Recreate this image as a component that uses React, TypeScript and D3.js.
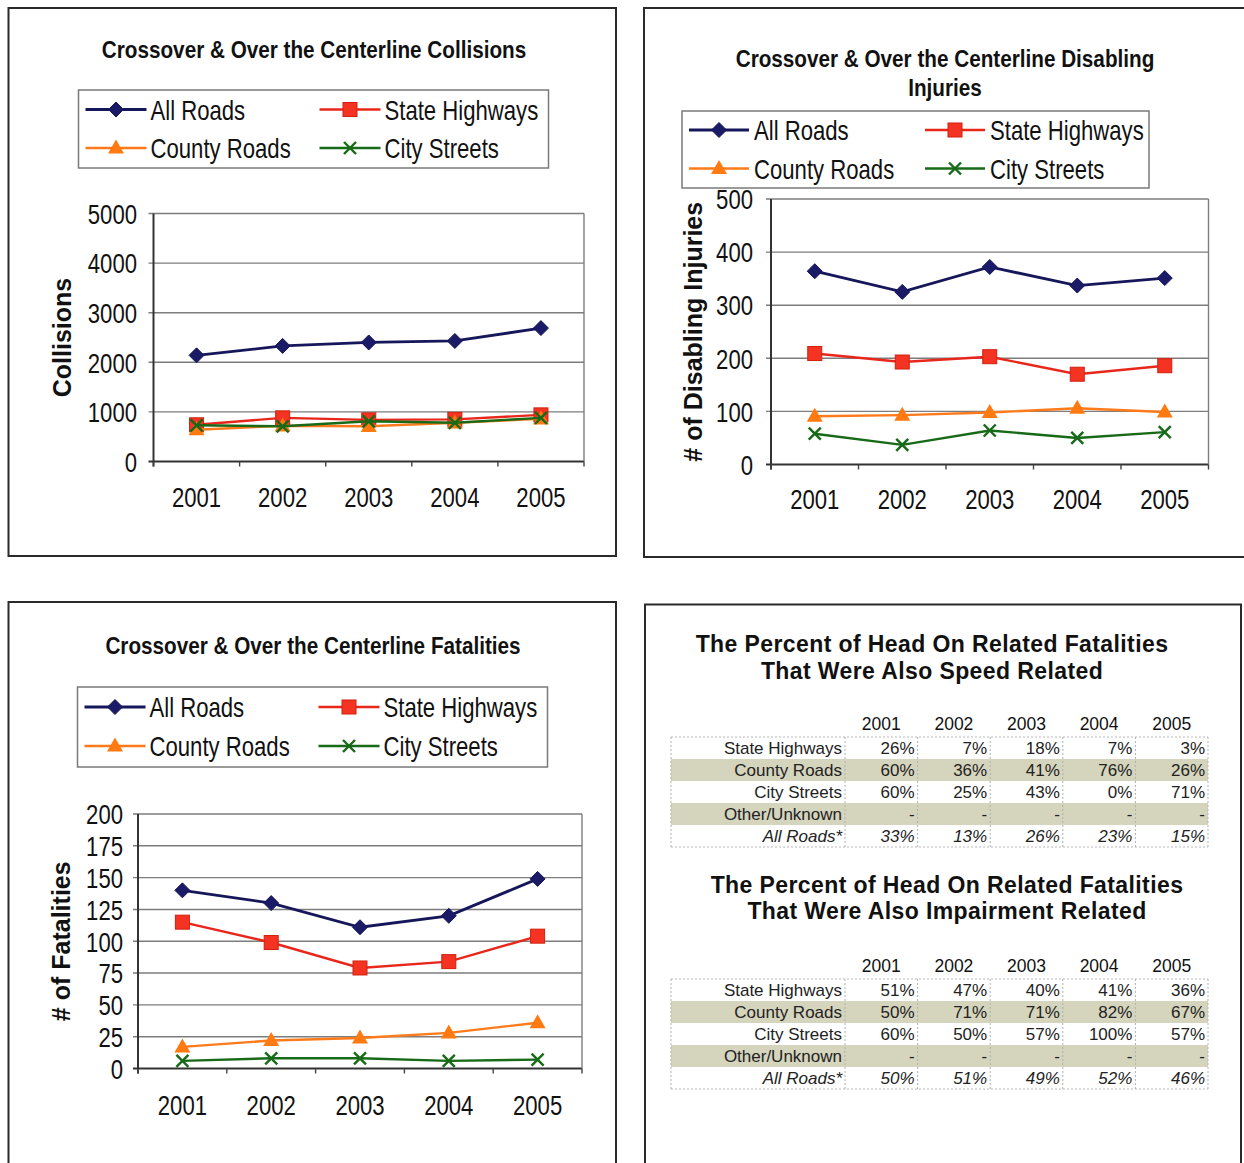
import React from 'react';
import * as d3 from 'd3';

// ---- shared categories ----
const YEARS = ['2001', '2002', '2003', '2004', '2005'];
const SERIES_NAMES = ['All Roads', 'State Highways', 'County Roads', 'City Streets'];

// ---- Crossover & Over the Centerline Collisions ----
const collisionsAllRoads = [2140, 2330, 2400, 2430, 2690];
const collisionsStateHighways = [740, 880, 840, 850, 940];
const collisionsCountyRoads = [640, 720, 710, 780, 860];
const collisionsCityStreets = [730, 710, 810, 780, 880];

// ---- Crossover & Over the Centerline Disabling Injuries ----
const injuriesAllRoads = [364, 325, 372, 337, 351];
const injuriesStateHighways = [209, 193, 203, 170, 186];
const injuriesCountyRoads = [91, 93, 98, 106, 99];
const injuriesCityStreets = [58, 37, 64, 50, 61];

// ---- Crossover & Over the Centerline Fatalities ----
const fatalitiesAllRoads = [140, 130, 111, 120, 149];
const fatalitiesStateHighways = [115, 99, 79, 84, 104];
const fatalitiesCountyRoads = [17, 22, 24, 28, 36];
const fatalitiesCityStreets = [6, 8, 8, 6, 7];

// ---- percent tables ----
const TABLE_ROWS = ['State Highways', 'County Roads', 'City Streets', 'Other/Unknown', 'All Roads*'];
const speedPercents = [
  ['26%', '7%', '18%', '7%', '3%'],
  ['60%', '36%', '41%', '76%', '26%'],
  ['60%', '25%', '43%', '0%', '71%'],
  ['-', '-', '-', '-', '-'],
  ['33%', '13%', '26%', '23%', '15%'],
];
const impairmentPercents = [
  ['51%', '47%', '40%', '41%', '36%'],
  ['50%', '71%', '71%', '82%', '67%'],
  ['60%', '50%', '57%', '100%', '57%'],
  ['-', '-', '-', '-', '-'],
  ['50%', '51%', '49%', '52%', '46%'],
];

const SANS = '"Liberation Sans", Arial, Helvetica, sans-serif';

const STYLES = [
  { color: '#16165a', fill: '#1a1a66', marker: 'diamond', width: 2.8 },
  { color: '#e8261a', fill: '#f53322', marker: 'square', width: 2.4 },
  { color: '#ff7a1a', fill: '#ff7a10', marker: 'triangle', width: 2.4 },
  { color: '#176a17', fill: '#176a17', marker: 'x', width: 2.4 },
];

// Condensed text: regular sans squeezed horizontally around its anchor point
function CText({ x, y, anchor = 'start', size = 27, sx = 0.82, weight = 'normal', children }: any) {
  return (
    <text
      transform={`translate(${x},${y}) scale(${sx},1)`}
      textAnchor={anchor}
      dominantBaseline="central"
      fontFamily={SANS}
      fontWeight={weight}
      fontSize={size}
      fill="#111"
    >
      {children}
    </text>
  );
}

function Marker({ kind, cx, cy, color, fill }: any) {
  if (kind === 'diamond') {
    const r = 7.5;
    return <path d={`M${cx},${cy - r}L${cx + r},${cy}L${cx},${cy + r}L${cx - r},${cy}Z`} fill={fill} stroke={color} strokeWidth={1} />;
  }
  if (kind === 'square') {
    const s = 14;
    return <rect x={cx - s / 2} y={cy - s / 2} width={s} height={s} fill={fill} stroke="#d0200f" strokeWidth={1} />;
  }
  if (kind === 'triangle') {
    const w = 16, h = 14;
    return <path d={`M${cx},${cy - h * 0.6}L${cx + w / 2},${cy + h * 0.4}L${cx - w / 2},${cy + h * 0.4}Z`} fill={fill} />;
  }
  const r = 6;
  return (
    <g stroke={color} strokeWidth={2.4}>
      <line x1={cx - r} y1={cy - r} x2={cx + r} y2={cy + r} />
      <line x1={cx - r} y1={cy + r} x2={cx + r} y2={cy - r} />
    </g>
  );
}

function Legend({ box, rowY, col2, textOff, lineW }: any) {
  const items = [
    { i: 0, col: 0, row: 0 },
    { i: 1, col: 1, row: 0 },
    { i: 2, col: 0, row: 1 },
    { i: 3, col: 1, row: 1 },
  ];
  return (
    <g>
      <rect x={box.x} y={box.y} width={box.w} height={box.h} fill="#fff" stroke="#7a7a7a" strokeWidth={1.5} />
      {items.map(({ i, col, row }) => {
        const x0 = box.x + (col === 0 ? 7 : col2);
        const y0 = rowY[row];
        const st = STYLES[i];
        return (
          <g key={i}>
            <line x1={x0} x2={x0 + lineW} y1={y0} y2={y0} stroke={st.color} strokeWidth={st.width} />
            <Marker kind={st.marker} cx={x0 + lineW / 2} cy={y0} color={st.color} fill={st.fill} />
            <CText x={x0 + textOff} y={y0 + 1}>{SERIES_NAMES[i]}</CText>
          </g>
        );
      })}
    </g>
  );
}

function LineChart({ plot, yMax, yStep, yTitle, yTitleX, labelRight, yearY, series }: any) {
  const x = d3.scaleBand<string>().domain(YEARS).range([plot.left, plot.right]);
  const y = d3.scaleLinear().domain([0, yMax]).range([plot.bottom, plot.top]);
  const ticks = d3.range(0, yMax + yStep / 2, yStep);
  const cx = (yr: string) => (x(yr) as number) + x.bandwidth() / 2;
  const line = d3
    .line<number>()
    .x((_, i) => cx(YEARS[i]))
    .y((d) => y(d));
  const bounds = YEARS.map((yr) => x(yr) as number).concat([plot.right]);
  const midY = (plot.top + plot.bottom) / 2;
  return (
    <g>
      {ticks.map((t: number) => (
        <g key={t}>
          <line x1={plot.left - 5} x2={plot.right} y1={y(t)} y2={y(t)} stroke={t === 0 ? '#333' : '#7d7d7d'} strokeWidth={t === 0 ? 2 : 1.4} />
          <CText x={labelRight} y={y(t) + 1} anchor="end">{t}</CText>
        </g>
      ))}
      <line x1={plot.right} x2={plot.right} y1={plot.top} y2={plot.bottom} stroke="#7d7d7d" strokeWidth={1.4} />
      <line x1={plot.left} x2={plot.left} y1={plot.top} y2={plot.bottom + 5} stroke="#333" strokeWidth={2} />
      {bounds.map((b: number, i: number) => (
        <line key={i} x1={b} x2={b} y1={plot.bottom} y2={plot.bottom + 5} stroke="#444" strokeWidth={1.4} />
      ))}
      {YEARS.map((yr) => (
        <CText key={yr} x={cx(yr)} y={yearY} anchor="middle">{yr}</CText>
      ))}
      <text
        transform={`translate(${yTitleX},${midY}) rotate(-90)`}
        textAnchor="middle"
        dominantBaseline="central"
        fontFamily={SANS}
        fontWeight="bold"
        fontSize={25}
        fill="#111"
      >
        {yTitle}
      </text>
      {series.map((vals: number[], si: number) => {
        const st = STYLES[si];
        return (
          <g key={si}>
            <path d={line(vals) as string} fill="none" stroke={st.color} strokeWidth={st.width} />
            {vals.map((v, i) => (
              <Marker key={i} kind={st.marker} cx={cx(YEARS[i])} cy={y(v)} color={st.color} fill={st.fill} />
            ))}
          </g>
        );
      })}
    </g>
  );
}

function PercentTable({ titles, titleX, titleY, headerY, firstRowY, values }: any) {
  const left = 671;
  const labelRight = 845;
  const colW = (1208 - labelRight) / YEARS.length;
  const rowH = 22;
  const top = firstRowY - rowH / 2;
  const bottom = top + rowH * TABLE_ROWS.length;
  const colEdges = [left, labelRight].concat(YEARS.map((_, i) => labelRight + colW * (i + 1)));
  return (
    <g>
      {titles.map((t: string, i: number) => (
        <text key={t} x={titleX} y={titleY[i]} textAnchor="middle" dominantBaseline="central" fontFamily={SANS} fontWeight="bold" fontSize={23} letterSpacing={0.4} fill="#111">
          {t}
        </text>
      ))}
      {YEARS.map((yr, i) => (
        <text key={yr} x={labelRight + colW * (i + 0.5)} y={headerY} textAnchor="middle" dominantBaseline="central" fontFamily={SANS} fontSize={17.5} fill="#111">
          {yr}
        </text>
      ))}
      {TABLE_ROWS.map((r, ri) =>
        ri % 2 === 1 ? <rect key={r} x={left} y={top + ri * rowH} width={1208 - left} height={rowH} fill="#d5d4bd" /> : null
      )}
      <line x1={left} x2={1208} y1={top} y2={top} stroke="#b8b8b8" strokeDasharray="2,2" />
      <line x1={left} x2={1208} y1={bottom} y2={bottom} stroke="#b8b8b8" strokeDasharray="2,2" />
      {colEdges.map((e: number, i: number) => (
        <line key={i} x1={e} x2={e} y1={top} y2={bottom} stroke="#b0b0b0" strokeDasharray="2,2" />
      ))}
      {TABLE_ROWS.map((r, ri) => {
        const cy = firstRowY + ri * rowH;
        const italic = ri === TABLE_ROWS.length - 1;
        return (
          <g key={r}>
            <text x={labelRight - 3} y={cy} textAnchor="end" dominantBaseline="central" fontFamily={SANS} fontSize={17} fontStyle={italic ? 'italic' : 'normal'} fill="#222">
              {r}
            </text>
            {values[ri].map((v: string, ci: number) => (
              <text key={ci} x={labelRight + colW * (ci + 1) - 3} y={cy} textAnchor="end" dominantBaseline="central" fontFamily={SANS} fontSize={17} fontStyle={italic ? 'italic' : 'normal'} fill="#222">
                {v}
              </text>
            ))}
          </g>
        );
      })}
    </g>
  );
}

function ChartTitle({ lines, x, ys }: any) {
  return (
    <g>
      {lines.map((l: string, i: number) => (
        <CText key={l} x={x} y={ys[i]} anchor="middle" size={23} sx={0.9} weight="bold">{l}</CText>
      ))}
    </g>
  );
}

export default function App() {
  return (
    <svg width={1244} height={1163} style={{ position: 'absolute', left: 0, top: 0, background: '#fff' }}>
      <rect x={0} y={0} width={1244} height={1163} fill="#fff" />

      {/* panel frames */}
      <rect x={8.5} y={8} width={607.5} height={548} fill="none" stroke="#2a2a2a" strokeWidth={2} />
      <rect x={644} y={8} width={620} height={549} fill="none" stroke="#2a2a2a" strokeWidth={2} />
      <rect x={8.5} y={602} width={607.5} height={580} fill="none" stroke="#2a2a2a" strokeWidth={2} />
      <rect x={645} y={604.5} width={596} height={580} fill="none" stroke="#2a2a2a" strokeWidth={2} />

      {/* collisions */}
      <ChartTitle lines={['Crossover & Over the Centerline Collisions']} x={314} ys={[50]} />
      <Legend box={{ x: 78.5, y: 90, w: 470, h: 78 }} rowY={[109.5, 148]} col2={241} textOff={65} lineW={61} />
      <LineChart
        plot={{ left: 153.5, right: 584, top: 213.5, bottom: 461.5 }}
        yMax={5000}
        yStep={1000}
        yTitle="Collisions"
        yTitleX={62}
        labelRight={137}
        yearY={498}
        series={[collisionsAllRoads, collisionsStateHighways, collisionsCountyRoads, collisionsCityStreets]}
      />

      {/* disabling injuries */}
      <ChartTitle lines={['Crossover & Over the Centerline Disabling', 'Injuries']} x={945} ys={[59, 88]} />
      <Legend box={{ x: 682, y: 111, w: 467, h: 77 }} rowY={[130, 168.5]} col2={243} textOff={65} lineW={60} />
      <LineChart
        plot={{ left: 771, right: 1208.5, top: 199, bottom: 464.5 }}
        yMax={500}
        yStep={100}
        yTitle="# of Disabling Injuries"
        yTitleX={693}
        labelRight={753}
        yearY={500}
        series={[injuriesAllRoads, injuriesStateHighways, injuriesCountyRoads, injuriesCityStreets]}
      />

      {/* fatalities */}
      <ChartTitle lines={['Crossover & Over the Centerline Fatalities']} x={313} ys={[646.5]} />
      <Legend box={{ x: 77.5, y: 687, w: 470, h: 80 }} rowY={[707, 746]} col2={241} textOff={65} lineW={61} />
      <LineChart
        plot={{ left: 138, right: 582, top: 814, bottom: 1068.5 }}
        yMax={200}
        yStep={25}
        yTitle="# of Fatalities"
        yTitleX={61}
        labelRight={123}
        yearY={1106}
        series={[fatalitiesAllRoads, fatalitiesStateHighways, fatalitiesCountyRoads, fatalitiesCityStreets]}
      />

      {/* percent tables */}
      <PercentTable
        titles={['The Percent of Head On Related Fatalities', 'That Were Also Speed Related']}
        titleX={932}
        titleY={[644, 671]}
        headerY={724}
        firstRowY={748}
        values={speedPercents}
      />
      <PercentTable
        titles={['The Percent of Head On Related Fatalities', 'That Were Also Impairment Related']}
        titleX={947}
        titleY={[885, 911]}
        headerY={966}
        firstRowY={990}
        values={impairmentPercents}
      />
    </svg>
  );
}
